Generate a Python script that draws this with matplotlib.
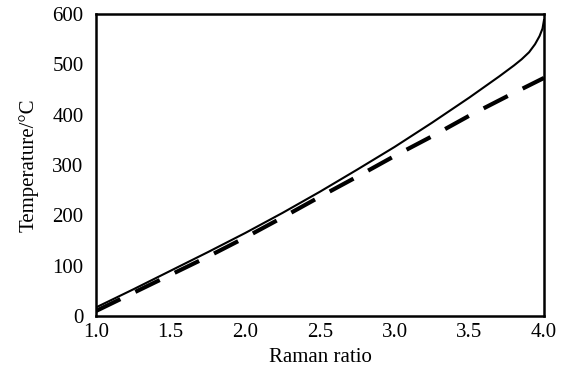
import matplotlib
matplotlib.use("Agg")
import matplotlib.pyplot as plt

# Raman ratio vs. temperature, two calibration curves
ratio_solid = [1.0, 1.25, 1.5, 1.75, 2.0, 2.25, 2.5, 2.75, 3.0, 3.25, 3.5,
               3.6, 3.7, 3.8, 3.85, 3.9, 3.94, 3.97, 3.99, 4.0]
temp_solid = [17, 53, 90, 127, 165, 205, 247, 291, 336, 384, 434,
              455, 476, 498, 510, 524, 540, 556, 571, 588]

ratio_dashed = [1.0, 1.25, 1.5, 1.75, 2.0, 2.25, 2.5, 2.75, 3.0, 3.25, 3.5,
                3.75, 4.0]
temp_dashed = [10, 46, 82, 118, 156, 196, 237, 277, 318, 357, 398, 436, 473]

x_ticks = [1.0, 1.5, 2.0, 2.5, 3.0, 3.5, 4.0]
y_ticks = [0, 100, 200, 300, 400, 500, 600]

plt.rcParams['font.family'] = ['Liberation Serif', 'DejaVu Serif']

fig = plt.figure(figsize=(5.62, 3.73), dpi=100)
ax = fig.add_axes([96 / 562, 1 - 316 / 373, (544 - 96) / 562, (316 - 14) / 373])

ax.plot(ratio_solid, temp_solid, color='black', lw=1.5,
        solid_joinstyle='round')
ax.plot(ratio_dashed, temp_dashed, color='black', lw=3.0,
        dashes=(6.5, 4), dash_capstyle='butt')

ax.set_xlim(1.0, 4.0)
ax.set_ylim(0, 600)
ax.set_xticks(x_ticks)
ax.set_xticklabels([f"{v:.1f}" for v in x_ticks])
ax.set_yticks(y_ticks)
ax.set_yticklabels([str(v) for v in y_ticks])
ax.tick_params(axis='both', length=0, labelsize=15, colors='black')
ax.tick_params(axis='x', pad=5)
ax.tick_params(axis='y', pad=9)

for s in ax.spines.values():
    s.set_linewidth(1.8)
    s.set_color('black')

ax.set_xlabel('Raman ratio', fontsize=15, labelpad=4)
ax.set_ylabel('Temperature/°C', fontsize=15, labelpad=10)

fig.savefig('out.png', dpi=100)
